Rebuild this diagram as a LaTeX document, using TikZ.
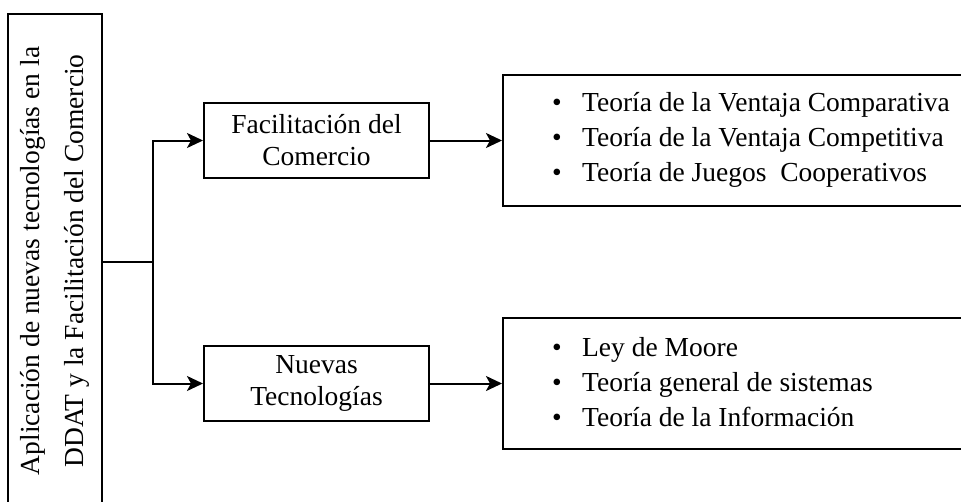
\documentclass[tikz,border=0pt]{standalone}
\usepackage{fontspec}
\setmainfont{Liberation Serif}
\usetikzlibrary{arrows.meta}
\begin{document}
\begin{tikzpicture}[x=1pt,y=-1pt,
  box/.style={draw=black, line width=2pt, rectangle, inner sep=0pt},
  ln/.style={draw=black, line width=2pt},
  conn/.style={ln, -{Stealth[length=16pt,width=15pt,inset=4pt]}},
  txt/.style={font=\fontsize{27.5}{32}\selectfont, inner sep=0pt, align=center, text=black},
  list/.style={font=\fontsize{27.5}{35}\selectfont, inner sep=0pt, align=left, anchor=west, text=black}]
\useasboundingbox (0,0) rectangle (961,501);
\clip (0,0) rectangle (961,501);
% left box
\node[box, minimum width=94pt, minimum height=520pt] (main) at (55,274) {};
\node[txt, rotate=90, font=\fontsize{27.5}{44}\selectfont] (maintext) at (55,261)
  {Aplicación de nuevas tecnologías en la\\DDAT y la Facilitación del Comercio};
% middle boxes
\node[box, txt, minimum width=225pt, minimum height=75pt] (fc) at (316.5,140.5) {Facilitación del\\Comercio};
\node[box, txt, minimum width=225pt, minimum height=75pt] (nt) at (316.5,383.5) {Nuevas\\Tecnologías};
% right boxes
\node[box, minimum width=500pt, minimum height=131pt] (r1) at (753,140.5) {};
\node[box, minimum width=500pt, minimum height=131pt] (r2) at (753,383.5) {};
\node[list] (l1) at (552,140) {\makebox[30pt][l]{\textbullet}Teoría de la Ventaja Comparativa\\
  \makebox[30pt][l]{\textbullet}Teoría de la Ventaja Competitiva\\
  \makebox[30pt][l]{\textbullet}Teoría de Juegos\ \ Cooperativos};
\node[list] (l2) at (552,382) {\makebox[30pt][l]{\textbullet}Ley de Moore\\
  \makebox[30pt][l]{\textbullet}Teoría general de sistemas\\
  \makebox[30pt][l]{\textbullet}Teoría de la Información};
% connectors
\coordinate (j) at (153,262);
\draw[ln] (main.east |- j) -- (j);
\draw[conn] (j) |- (fc.west);
\draw[conn] (j) |- (nt.west);
\draw[conn] (fc.east) -- (r1.west);
\draw[conn] (nt.east) -- (r2.west);
\end{tikzpicture}
\end{document}
